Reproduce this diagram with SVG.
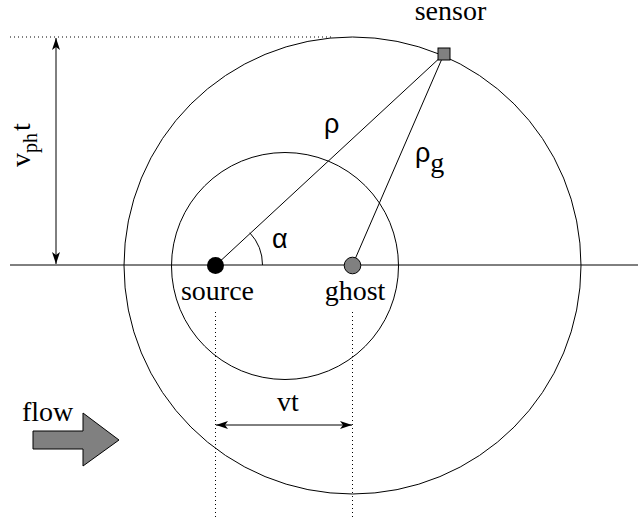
<svg xmlns="http://www.w3.org/2000/svg" width="638" height="518" viewBox="0 0 638 518">
<style>
.ln{stroke:#000;stroke-width:1;fill:none}
.dot{stroke:#000;stroke-width:1;fill:none;stroke-dasharray:1 3}
.t{font-family:"Liberation Serif","Times New Roman",serif;font-size:28px;fill:#000}
.g{font-family:"Liberation Sans",Arial,sans-serif;font-size:27px;fill:#000}
</style>
<defs>
<marker id="ah" viewBox="0 0 12 8" refX="12" refY="4" markerWidth="12" markerHeight="8" markerUnits="userSpaceOnUse" orient="auto-start-reverse">
<path d="M0,0 L12,4 L0,8 L3,4 Z" fill="#000"/>
</marker>
</defs>
<rect width="638" height="518" fill="#fff"/>
<g id="connectors">
<line class="ln" x1="10" y1="265" x2="638" y2="265"/>
<line class="dot" x1="10" y1="37" x2="333" y2="37"/>
<line class="dot" x1="215.5" y1="312" x2="215.5" y2="518"/>
<line class="dot" x1="352.5" y1="312" x2="352.5" y2="518"/>
<line class="ln" x1="56" y1="38" x2="56" y2="264" marker-start="url(#ah)" marker-end="url(#ah)"/>
<line class="ln" x1="216" y1="425" x2="352" y2="425" marker-start="url(#ah)" marker-end="url(#ah)"/>
<line class="ln" x1="215.5" y1="265.5" x2="444" y2="54"/>
<line class="ln" x1="352.5" y1="265" x2="444" y2="54"/>
<path class="ln" d="M262.5,265 A47,47 0 0 0 249.8,232.8"/>
</g>
<g id="large-circle"><circle class="ln" cx="352.5" cy="265.5" r="228.5"/></g>
<g id="small-circle"><circle class="ln" cx="285" cy="266" r="113.5"/></g>
<g id="source">
<circle cx="215.5" cy="265.5" r="8.5" fill="#000"/>
<text class="t" x="217.5" y="300" text-anchor="middle">source</text>
</g>
<g id="ghost">
<circle cx="352.5" cy="265.5" r="8.3" fill="#808080" stroke="#000" stroke-width="1"/>
<text class="t" x="355" y="300" text-anchor="middle">ghost</text>
</g>
<g id="sensor">
<rect x="438" y="48" width="12" height="12" fill="#808080" stroke="#000" stroke-width="1"/>
<text class="t" x="450.5" y="20" text-anchor="middle">sensor</text>
</g>
<g id="labels">
<text class="g" x="324" y="133">ρ</text>
<text class="g" x="415" y="162">ρ<tspan class="t" font-size="20" dy="10">g</tspan></text>
<text class="g" x="272" y="248">α</text>
<text class="t" x="277" y="411">vt</text>
<text class="t" transform="translate(30,167) rotate(-90)">v<tspan font-size="20" dy="7">ph</tspan><tspan dy="-7" dx="2">t</tspan></text>
</g>
<g id="flow">
<polygon points="33,431 83,431 83,413 119,440 83,466 83,449 33,449" fill="#808080" stroke="#000" stroke-width="1"/>
<text class="t" x="22" y="421">flow</text>
</g>
</svg>
